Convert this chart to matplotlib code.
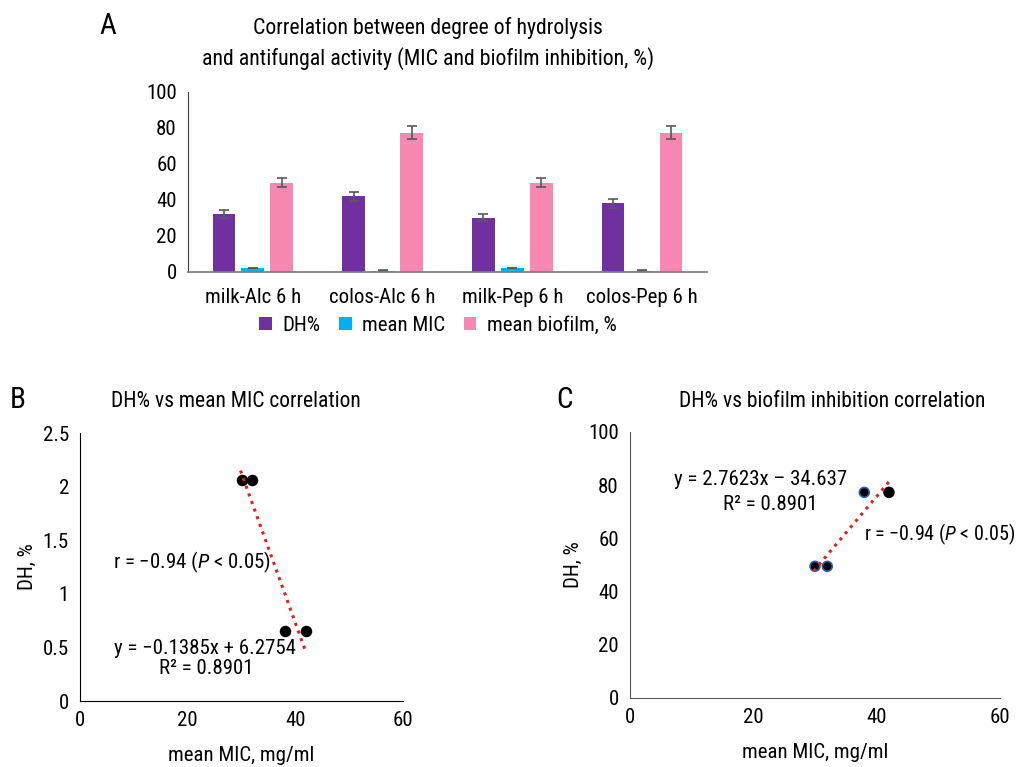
import numpy as np
import matplotlib
matplotlib.use('Agg')
import matplotlib.pyplot as plt
from matplotlib import font_manager as fm

# data
samples = ['milk-Alc 6 h', 'colos-Alc 6 h', 'milk-Pep 6 h', 'colos-Pep 6 h']
dh = [32, 42, 30, 38]
dh_err = [2.0, 2.5, 2.0, 2.4]
mic = [2.06, 0.65, 2.06, 0.65]
mic_err = [0.2, 0.1, 0.2, 0.1]
biofilm = [49.5, 77.3, 49.5, 77.3]
biofilm_err = [2.5, 3.7, 2.5, 3.7]

# the reference uses a narrow sans; take a condensed face if one is installed
def is_regular(f):
    return f.style == 'normal' and str(f.weight) in ('400', 'normal', 'regular', 'book')

narrow = [f for f in fm.fontManager.ttflist if is_regular(f) and (
    'narrow' in f.name.lower() or 'condensed' in f.name.lower()
    or str(f.stretch) in ('condensed', 'semi-condensed', '75', '87'))]
narrow.sort(key=lambda f: ('Liberation' not in f.name, 'Roboto' not in f.name, f.name))
if narrow:
    fname = narrow[0].name
    plt.rcParams['font.stretch'] = narrow[0].stretch
    fs = 15
else:
    fname = 'Liberation Sans'
    fs = 13
plt.rcParams['font.family'] = [fname, 'DejaVu Sans']
plt.rcParams['mathtext.fontset'] = 'custom'
plt.rcParams['mathtext.rm'] = fname
plt.rcParams['mathtext.it'] = fname + ':italic'
plt.rcParams['font.size'] = fs

purple = '#7030A0'
cyan = '#00B0F0'
pink = '#F887B1'
errc = '#595959'

fig = plt.figure(figsize=(10.21, 7.67), dpi=100)

# ---- panel A: grouped bars
axA = fig.add_axes([0.1841, 0.6458, 0.5083, 0.2347])
x = np.arange(len(samples))
w = 0.175
off = 0.223
ek = dict(ecolor=errc, capsize=3.5, elinewidth=1.2, capthick=1.2)
axA.bar(x - off, dh, w, yerr=dh_err, color=purple, label='DH%', error_kw=ek)
axA.bar(x, mic, w, yerr=mic_err, color=cyan, label='mean MIC', error_kw=ek)
axA.bar(x + off, biofilm, w, yerr=biofilm_err, color=pink, label='mean biofilm, %', error_kw=ek)
axA.set_xlim(-0.5, 3.5)
axA.set_ylim(0, 100)
axA.set_yticks([0, 20, 40, 60, 80, 100])
axA.set_xticks(x)
axA.set_xticklabels(samples)
axA.tick_params(axis='both', length=0)
axA.tick_params(axis='x', pad=12)
axA.tick_params(axis='y', pad=8)
for s in ['top', 'right']:
    axA.spines[s].set_visible(False)
axA.spines['left'].set_color('#404040')
axA.spines['bottom'].set_color('#808080')
axA.spines['bottom'].set_linewidth(1.3)
fig.legend(loc='center', bbox_to_anchor=(0.429, 0.576), ncol=3, frameon=False,
           handlelength=0.6, handleheight=0.6, handletextpad=0.5, columnspacing=0.9,
           fontsize=fs)
fig.text(0.419, 0.943, 'Correlation between degree of hydrolysis\nand antifungal activity (MIC and biofilm inhibition, %)',
         ha='center', va='center', fontsize=fs + 0.7, linespacing=1.45)
fig.text(0.106, 0.966, 'A', ha='center', va='center', fontsize=21)


def scatter_panel(ax, xv, yv, edges, ylim, yticks):
    ax.scatter(xv, yv, s=50, c='black', edgecolors=edges, linewidths=1.2, zorder=3)
    k, b = np.polyfit(xv, yv, 1)
    xl = np.array([min(xv) - 0.2, max(xv)])
    ax.plot(xl, k * xl + b, ':', color='#E0201C', lw=2.2, zorder=4)
    ax.set_xlim(0, 60)
    ax.set_xticks([0, 20, 40, 60])
    ax.set_ylim(*ylim)
    ax.set_yticks(yticks)
    ax.tick_params(axis='both', length=0)
    ax.tick_params(axis='x', pad=7)
    ax.tick_params(axis='y', pad=8)
    for s in ['top', 'right']:
        ax.spines[s].set_visible(False)
    ax.set_xlabel('mean MIC, mg/ml', labelpad=12)
    ax.set_ylabel('DH, %', labelpad=4)


# ---- panel B
axB = fig.add_axes([0.0784, 0.0860, 0.3164, 0.3494])
scatter_panel(axB, dh, mic, 'black', (0, 2.5), [0, 0.5, 1, 1.5, 2, 2.5])
axB.set_yticklabels(['0', '0.5', '1', '1.5', '2', '2.5'])
axB.text(6.1, 1.297, 'r = \u22120.94 ($P$ < 0.05)', ha='left', va='center')
axB.text(23.2, 0.494, 'y = \u22120.1385x + 6.2754', ha='center', va='center')
axB.text(23.4, 0.308, 'R\u00b2 = 0.8901', ha='center', va='center')
fig.text(0.017, 0.479, 'B', ha='center', va='center', fontsize=21)
fig.text(0.231, 0.476, 'DH% vs mean MIC correlation', ha='center', va='center', fontsize=fs + 0.5)

# ---- panel C
axC = fig.add_axes([0.6170, 0.0900, 0.3624, 0.3468])
scatter_panel(axC, dh, biofilm, ['#2E5FA8', 'black', '#2E5FA8', '#2E5FA8'],
              (0, 100), [0, 20, 40, 60, 80, 100])
for s in ['left', 'bottom']:
    axC.spines[s].set_color('#595959')
axC.text(21.2, 82.3, 'y = 2.7623x \u2013 34.637', ha='center', va='center')
axC.text(22.8, 72.9, 'R\u00b2 = 0.8901', ha='center', va='center')
axC.text(38.0, 61.7, 'r = \u22120.94 ($P$ < 0.05)', ha='left', va='center', fontsize=fs - 0.6)
fig.text(0.553, 0.479, 'C', ha='center', va='center', fontsize=21)
fig.text(0.815, 0.476, 'DH% vs biofilm inhibition correlation', ha='center', va='center', fontsize=fs + 0.5)

fig.savefig('out.png', dpi=100)
